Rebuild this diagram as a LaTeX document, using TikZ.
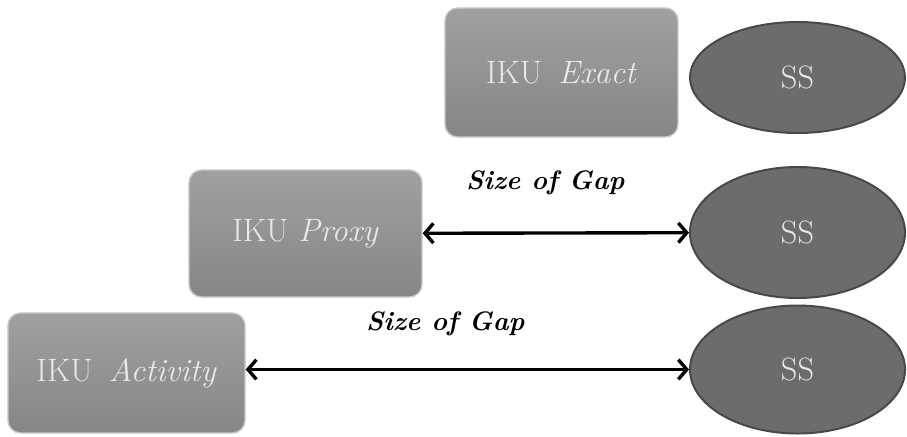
\documentclass[tikz,border=0pt]{standalone}
\usepackage{xcolor}
\usepackage{tikz}
\usetikzlibrary{shapes.geometric, arrows.meta, positioning}
\definecolor{ikutop}{RGB}{160,160,160}
\definecolor{ikubottom}{RGB}{134,134,134}
\definecolor{ikuedge}{RGB}{200,200,200}
\definecolor{ssfill}{RGB}{108,108,108}
\definecolor{ssedge}{RGB}{72,72,72}
\definecolor{lighttext}{RGB}{232,232,232}
\tikzset{
    ikubox/.style={rectangle, rounded corners=9pt, draw=ikuedge, line width=1pt, top color=ikutop, bottom color=ikubottom, text=lighttext, minimum width=5.825cm, inner sep=0pt, font=\fontsize{23}{27}\selectfont},
    ssnode/.style={ellipse, draw=ssedge, line width=1.4pt, fill=ssfill, text=lighttext, minimum width=5.375cm, inner sep=0pt, font=\fontsize{23}{27}\selectfont},
    gaparrow/.style={{Straight Barb[length=6pt,width=14pt]}-{Straight Barb[length=6pt,width=14pt]}, line width=2.4pt},
    gaplabel/.style={font=\fontsize{19}{23}\selectfont\bfseries\itshape}
}

\begin{document}
\begin{tikzpicture}[x=0.025cm, y=-0.025cm]
            \useasboundingbox (0,0) rectangle (907,436);
            % left column: the three IKU boxes
            \node (exact) [ikubox, minimum height=3.225cm] at (561.5,72.5) {IKU\enspace\textit{Exact}};
            \node (proxy) [ikubox, minimum height=3.175cm] at (305.5,233.5) {IKU \textit{Proxy}};
            \node (activity) [ikubox, minimum width=5.925cm, minimum height=3cm] at (126.5,373) {IKU\enspace\textit{Activity}};
            % right column: SS
            \node (ss1) [ssnode, minimum height=2.775cm] at (797.5,77.5) {SS};
            \node (ss2) [ssnode, minimum height=3.275cm] at (797.5,232.5) {SS};
            \node (ss3) [ssnode, minimum height=3.2cm] at (797.5,369.5) {SS};

            \draw[gaparrow] (proxy) -- node[gaplabel, pos=0.46, yshift=1.25cm] (gap1) {Size of Gap} (ss2);
            \draw[gaparrow] (activity.east |- ss3.west) -- node[gaplabel, pos=0.45, yshift=1.15cm] (gap2) {Size of Gap} (ss3);
\end{tikzpicture}
\end{document}
